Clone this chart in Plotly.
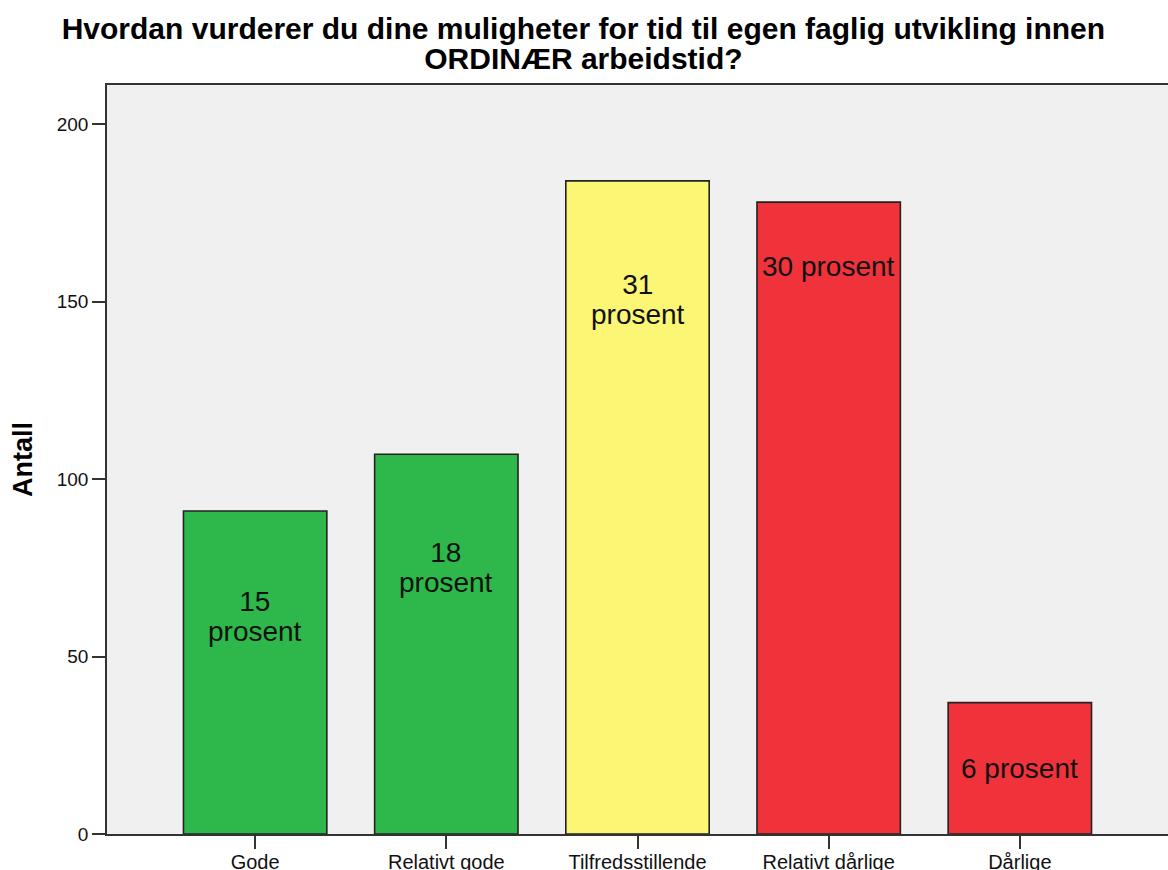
import plotly.graph_objects as go

categories = ["Gode", "Relativt gode", "Tilfredsstillende", "Relativt dårlige", "Dårlige"]
counts = [91, 107, 184, 178, 37]
labels = [["15", "prosent"], ["18", "prosent"], ["31", "prosent"], ["30 prosent"], ["6 prosent"]]
label_y = [61.3, 75, 150.5, 160, 18.5]
colors = ["#2eb84b", "#2eb84b", "#fbf674", "#f0323b", "#f0323b"]
y_ticks = [0, 50, 100, 150, 200]
title_lines = ["Hvordan vurderer du dine muligheter for tid til egen faglig utvikling innen",
               "ORDINÆR arbeidstid?"]

FONT = "Liberation Sans, Arial, sans-serif"


def big(lines, px):
    return "<br>".join(f"<span style='font-size:{px}px'>{s}</span>" for s in lines)


fig = go.Figure()
fig.add_trace(go.Bar(
    x=categories, y=counts, width=0.75,
    marker=dict(color=colors, line=dict(color="#222222", width=1.6)),
    hoverinfo="x+y",
))
for c, t, ly in zip(categories, labels, label_y):
    fig.add_annotation(x=c, y=ly, text=big(t, 28), showarrow=False,
                       font=dict(family=FONT, size=23, color="#111"),
                       xref="x", yref="y")

fig.update_layout(
    width=1168, height=870,
    margin=dict(l=107, r=0, t=85, b=36, autoexpand=False),
    paper_bgcolor="white", plot_bgcolor="#f0f0f0",
    showlegend=False,
    title=dict(text="<b>" + big(title_lines, 30) + "</b>",
               x=0.4995, xanchor="center", xref="container",
               y=1 - 39 / 870, yanchor="top", yref="container",
               font=dict(family=FONT, size=23, color="black")),
    font=dict(family=FONT, color="black"),
)
fig.update_xaxes(type="category", range=[-0.775, 4.775], showline=True, linecolor="#333", linewidth=1.5,
                 mirror=True, ticks="outside", ticklen=13, tickcolor="#333", tickwidth=1.5,
                 ticklabelstandoff=-4,
                 tickfont=dict(size=20, color="#111"), showgrid=False, automargin=False)
fig.update_yaxes(range=[0, 211], tickvals=y_ticks, showline=True, linecolor="#333", linewidth=1.5,
                 ticks="outside", ticklen=13, tickcolor="#333", tickwidth=1.5,
                 tickfont=dict(size=19, color="#111"), showgrid=False, zeroline=False, automargin=False,
                 title=dict(text="<b>Antall</b>", font=dict(size=27, color="black"), standoff=16))

fig.write_html("out.html", config={"displayModeBar": False},
               post_script="document.body.style.margin='0';")
